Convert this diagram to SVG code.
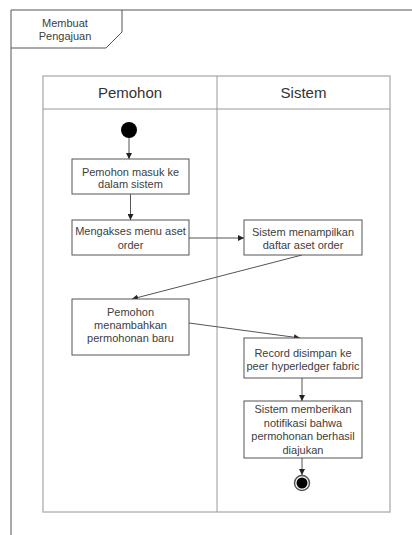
<svg xmlns="http://www.w3.org/2000/svg" width="412" height="535" viewBox="0 0 412 535">
  <style>
    .frame { fill: none; stroke: #555555; stroke-width: 1; }
    .lane { fill: none; stroke: #b8b8b8; stroke-width: 1.5; }
    .lane-in { fill: none; stroke: #9a9a9a; stroke-width: 1; }
    .act { fill: #ffffff; stroke: #555555; stroke-width: 1; }
    .txt { font-family: "Liberation Sans", Arial, sans-serif; font-size: 11px; fill: #404040; text-anchor: middle; }
    .head { font-family: "Liberation Sans", Arial, sans-serif; font-size: 15px; fill: #333333; text-anchor: middle; }
    .flow { fill: none; stroke: #555555; stroke-width: 1; marker-end: url(#arrow); }
  </style>
  <defs>
    <marker id="arrow" viewBox="0 0 6 6" refX="6" refY="3" markerWidth="6" markerHeight="6" markerUnits="userSpaceOnUse" orient="auto">
      <path d="M0,0 L6,3 L0,6 z" fill="#222222"/>
    </marker>
  </defs>

  <!-- outer frame with name tag -->
  <g id="frame">
    <path class="frame" d="M11,535 V10 H412"/>
    <path class="frame" d="M11,48 H106 L122,32 V10"/>
    <text class="txt" x="65" y="27">Membuat</text>
    <text class="txt" x="65" y="40">Pengajuan</text>
  </g>

  <!-- swimlanes -->
  <g id="lanes">
    <rect class="lane" x="43" y="76" width="347" height="436"/>
    <line class="lane-in" x1="43" y1="109" x2="390" y2="109"/>
    <line class="lane-in" x1="217" y1="76" x2="217" y2="512"/>
    <text class="head" x="130" y="98">Pemohon</text>
    <text class="head" x="303.5" y="98">Sistem</text>
  </g>

  <!-- connectors -->
  <g id="connectors">
    <line class="flow" x1="129" y1="138" x2="129" y2="159"/>
    <line class="flow" x1="130.5" y1="194" x2="130.5" y2="220"/>
    <line class="flow" x1="189" y1="238" x2="244" y2="238"/>
    <line class="flow" x1="302" y1="255" x2="132" y2="299"/>
    <line class="flow" x1="189" y1="323" x2="300" y2="338"/>
    <line class="flow" x1="302" y1="378" x2="302" y2="401"/>
    <line class="flow" x1="302" y1="458" x2="302" y2="475"/>
  </g>

  <!-- start node -->
  <g id="start">
    <circle cx="129" cy="130" r="8" fill="#000000"/>
  </g>

  <g id="masuk">
    <rect class="act" x="72" y="159" width="117" height="35"/>
    <text class="txt" x="130.5" y="176">Pemohon masuk ke</text>
    <text class="txt" x="130.5" y="188">dalam sistem</text>
  </g>

  <g id="mengakses">
    <rect class="act" x="72" y="220" width="117" height="35"/>
    <text class="txt" x="130.5" y="235">Mengakses menu aset</text>
    <text class="txt" x="130.5" y="249">order</text>
  </g>

  <g id="menampilkan">
    <rect class="act" x="244" y="220" width="118" height="35"/>
    <text class="txt" x="303" y="236">Sistem menampilkan</text>
    <text class="txt" x="303" y="249">daftar aset order</text>
  </g>

  <g id="menambahkan">
    <rect class="act" x="72" y="299" width="117" height="56"/>
    <text class="txt" x="130.5" y="316">Pemohon</text>
    <text class="txt" x="130.5" y="329">menambahkan</text>
    <text class="txt" x="130.5" y="342">permohonan baru</text>
  </g>

  <g id="disimpan">
    <rect class="act" x="244" y="338" width="118" height="40"/>
    <text class="txt" x="303" y="357">Record disimpan ke</text>
    <text class="txt" x="303" y="370">peer hyperledger fabric</text>
  </g>

  <g id="notifikasi">
    <rect class="act" x="244" y="401" width="118" height="57"/>
    <text class="txt" x="303" y="413">Sistem memberikan</text>
    <text class="txt" x="303" y="427">notifikasi bahwa</text>
    <text class="txt" x="303" y="440">permohonan berhasil</text>
    <text class="txt" x="303" y="454">diajukan</text>
  </g>

  <!-- end node -->
  <g id="end">
    <circle cx="302" cy="483" r="7.5" fill="#ffffff" stroke="#555555" stroke-width="1.5"/>
    <circle cx="302" cy="483" r="5.5" fill="#000000"/>
  </g>
</svg>
